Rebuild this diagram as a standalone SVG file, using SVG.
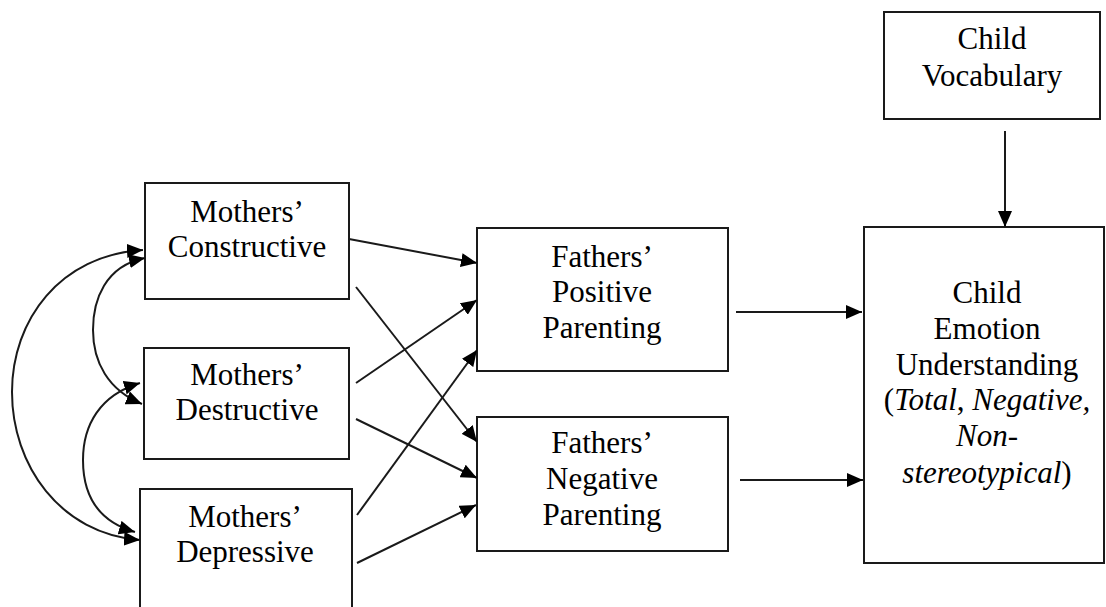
<svg xmlns="http://www.w3.org/2000/svg" width="1106" height="607" viewBox="0 0 1106 607">
<style>
.box{fill:#fff;stroke:#1a1a1a;stroke-width:2}
.c{fill:none;stroke:#1a1a1a;stroke-width:2}
</style>
<defs>
<marker id="ah" viewBox="0 0 16 14" refX="16" refY="7" markerWidth="16" markerHeight="14" markerUnits="userSpaceOnUse" orient="auto-start-reverse">
<path d="M0,0 L16,7 L0,14 z" fill="#000"/>
</marker>
</defs>
<rect width="1106" height="607" fill="#fff"/>
<g id="mothers-constructive">
<rect class="box" x="145" y="183" width="204" height="116"/>
<text font-family="Liberation Serif, serif" font-size="31" text-anchor="middle" x="247" y="222">Mothers’</text>
<text font-family="Liberation Serif, serif" font-size="31" text-anchor="middle" x="247" y="257">Constructive</text>
</g>
<g id="mothers-destructive">
<rect class="box" x="144" y="348" width="205" height="111"/>
<text font-family="Liberation Serif, serif" font-size="31" text-anchor="middle" x="247" y="385">Mothers’</text>
<text font-family="Liberation Serif, serif" font-size="31" text-anchor="middle" x="247" y="420">Destructive</text>
</g>
<g id="mothers-depressive">
<rect class="box" x="140" y="489" width="212" height="140"/>
<text font-family="Liberation Serif, serif" font-size="31" text-anchor="middle" x="245" y="527">Mothers’</text>
<text font-family="Liberation Serif, serif" font-size="31" text-anchor="middle" x="245" y="562">Depressive</text>
</g>
<g id="fathers-positive">
<rect class="box" x="477" y="228" width="251" height="143"/>
<text font-family="Liberation Serif, serif" font-size="31" text-anchor="middle" x="602" y="267">Fathers’</text>
<text font-family="Liberation Serif, serif" font-size="31" text-anchor="middle" x="602" y="302">Positive</text>
<text font-family="Liberation Serif, serif" font-size="31" text-anchor="middle" x="602" y="338">Parenting</text>
</g>
<g id="fathers-negative">
<rect class="box" x="477" y="417" width="251" height="134"/>
<text font-family="Liberation Serif, serif" font-size="31" text-anchor="middle" x="602" y="453">Fathers’</text>
<text font-family="Liberation Serif, serif" font-size="31" text-anchor="middle" x="602" y="489">Negative</text>
<text font-family="Liberation Serif, serif" font-size="31" text-anchor="middle" x="602" y="525">Parenting</text>
</g>
<g id="child-vocabulary">
<rect class="box" x="884" y="12" width="216" height="107"/>
<text font-family="Liberation Serif, serif" font-size="31" text-anchor="middle" x="992" y="49">Child</text>
<text font-family="Liberation Serif, serif" font-size="31" text-anchor="middle" x="992" y="86">Vocabulary</text>
</g>
<g id="child-emotion">
<rect class="box" x="864" y="227" width="240" height="336"/>
<text font-family="Liberation Serif, serif" font-size="31" text-anchor="middle" x="987" y="303">Child</text>
<text font-family="Liberation Serif, serif" font-size="31" text-anchor="middle" x="987" y="339">Emotion</text>
<text font-family="Liberation Serif, serif" font-size="31" text-anchor="middle" x="987" y="375">Understanding</text>
<text font-family="Liberation Serif, serif" font-size="31" text-anchor="middle" x="987" y="410">(<tspan font-style="italic">Total</tspan>, <tspan font-style="italic">Negative,</tspan></text>
<text font-family="Liberation Serif, serif" font-size="31" text-anchor="middle" font-style="italic" x="987" y="446">Non-</text>
<text font-family="Liberation Serif, serif" font-size="31" text-anchor="middle" x="987" y="483"><tspan font-style="italic">stereotypical</tspan>)</text>
</g>
<g id="connectors">
<line class="c" marker-end="url(#ah)" x1="349" y1="239" x2="477" y2="263"/>
<line class="c" marker-end="url(#ah)" x1="356" y1="287" x2="477" y2="442"/>
<line class="c" marker-end="url(#ah)" x1="356" y1="383" x2="477" y2="300"/>
<line class="c" marker-end="url(#ah)" x1="356" y1="419" x2="477" y2="478"/>
<line class="c" marker-end="url(#ah)" x1="357" y1="515" x2="477" y2="350"/>
<line class="c" marker-end="url(#ah)" x1="357" y1="563" x2="476" y2="505"/>
<line class="c" marker-end="url(#ah)" x1="736" y1="312" x2="862" y2="312"/>
<line class="c" marker-end="url(#ah)" x1="740" y1="480" x2="863" y2="480"/>
<line class="c" marker-end="url(#ah)" x1="1005" y1="131" x2="1005" y2="227"/>
<path class="c" marker-start="url(#ah)" marker-end="url(#ah)" d="M145 258 C105 266 93 300 93 330 C93 362 108 390 142 404"/>
<path class="c" marker-start="url(#ah)" marker-end="url(#ah)" d="M140 383 C100 395 83 425 83 460 C83 498 100 522 135 532"/>
<path class="c" marker-start="url(#ah)" marker-end="url(#ah)" d="M143 250 C60 255 12 320 12 392 C12 465 60 534 140 540"/>
</g>
</svg>
